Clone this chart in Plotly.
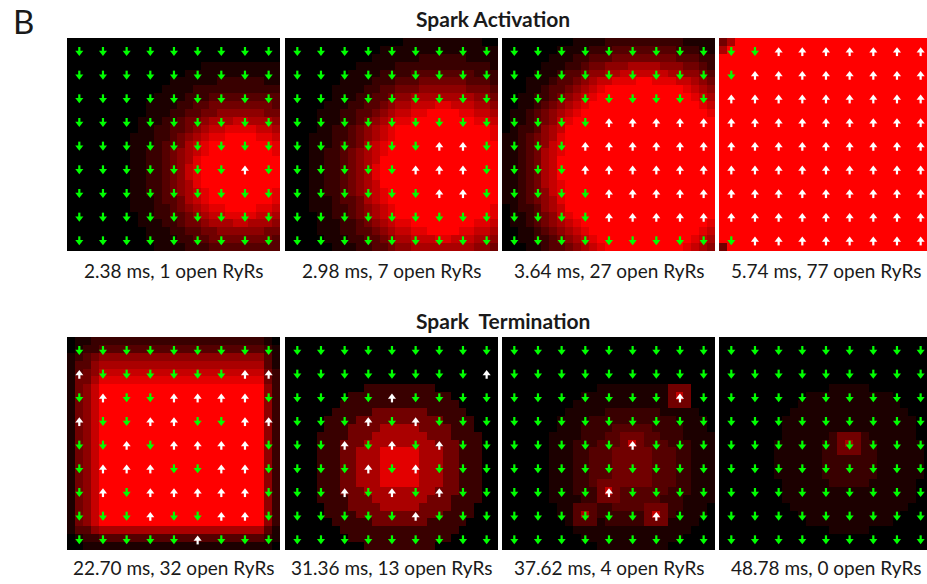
import plotly.graph_objects as go

# ---------------------------------------------------------------------------
# Data
# ---------------------------------------------------------------------------
times_ms = ["2.38", "2.98", "3.64", "5.74", "22.70", "31.36", "37.62", "48.78"]
open_counts = [1, 7, 27, 77, 32, 13, 4, 0]
row_titles = ["Spark Activation", "Spark  Termination"]

# RyR channel states on the 9x9 cluster ("1" = open, "0" = closed)
ryr_2_38 = ["000000000", "000000000", "000000000", "000000000", "000000000",
            "000000010", "000000000", "000000000", "000000000"]
ryr_2_98 = ["000000000", "000000000", "000000000", "000000000", "000000110",
            "000001110", "000000110", "000000000", "000000000"]
ryr_3_64 = ["000000000", "000000000", "000000000", "000011111", "000111111",
            "000111111", "000011111", "000011111", "000000000"]
ryr_5_74 = ["001111111", "011111111", "111111111", "111111111", "111111111",
            "111111111", "111111111", "111111111", "011111111"]
ryr_22_70 = ["000000000", "100000011", "010011110", "100110011", "001011110",
             "011100110", "010111110", "000100110", "000001000"]
ryr_31_36 = ["000000000", "000000001", "000010000", "000101000", "001010100",
             "000101000", "001010100", "000001000", "000000000"]
ryr_37_62 = ["000000000", "000000000", "000000010", "000000000", "000001000",
             "000000000", "000010000", "000000100", "000000000"]
ryr_48_78 = ["000000000", "000000000", "000000000", "000000000", "000000000",
             "000000000", "000000000", "000000000", "000000000"]

# Cleft Ca2+ level on the 27x27 grid, 0 (none) .. 9 (saturated)
ca_2_38 = [
    "000000000000000000000000000", "000000000000000000000000000",
    "000000000000000000000000000", "000000000000000001111111111",
    "000000000000000111111111111", "000000000000011111122222211",
    "000000000000111122222222222", "000000000001111222333333333",
    "000000000011112233444444443", "000000000011122334455555544",
    "000000000111223445666776665", "000000000112233456778888776",
    "000000001112234567889999887", "000000001112334678999999998",
    "000000001122345678999999998", "000000001122345689999999999",
    "000000001122345789999999999", "000000001122345789999999999",
    "000000001122345689999999999", "000000001122345678999999998",
    "000000001112334678999999998", "000000001112234567889999887",
    "000000000112233456778888776", "000000000111223445666776665",
    "000000000011122334455555544", "000000000011112233444444443",
    "000000000001111222333333333",
]
ca_2_98 = [
    "000000000000000111111111100", "000000000000111111111111111",
    "000000000001111112222221111", "000000000111112222222222221",
    "000000001111222233333333222", "000000011112223334444443332",
    "000000111122334445555554443", "000000111223345566666666554",
    "000001112233456677788777665", "000011122334567788999988776",
    "000011122345678899999999887", "000011223456789999999999998",
    "000111223456789999999999998", "000111233467899999999999999",
    "000112234567899999999999999", "000112234567999999999999999",
    "000112234568999999999999999", "000112234568999999999999999",
    "000112234567999999999999999", "000112234567899999999999999",
    "000111233467899999999999999", "000111223456789999999999998",
    "000011223456789999999999998", "000011122345678899999999887",
    "000011122334567788999988776", "000001112233456677788777665",
    "000000111223345566666666554",
]
ca_3_64 = [
    "000000000111122222222221111", "000000011112223333333322211",
    "000000111223334444444433322", "000001112234455566665554432",
    "000011123345566777777665543", "000111233456778889988877654",
    "000112334567899999999998765", "001122345678999999999999876",
    "001123456789999999999999987", "011234567899999999999999998",
    "011234578999999999999999999", "012235679999999999999999999",
    "112345689999999999999999999", "112345789999999999999999999",
    "112346789999999999999999999", "112346799999999999999999999",
    "112346799999999999999999999", "112346799999999999999999999",
    "112346789999999999999999999", "112345789999999999999999999",
    "112345689999999999999999999", "012235679999999999999999999",
    "011234578999999999999999999", "011234567899999999999999998",
    "001123456789999999999999987", "001122345678999999999999876",
    "000112334567899999999998765",
]
ca_5_74 = (["469999999999999999999999999", "699999999999999999999999999"]
           + ["999999999999999999999999999"] * 24
           + ["499999999999999999999999999"])
ca_22_70 = (["011222222222222222222222210", "012233333333333333333333321",
             "123455555555555555555555531", "133566666666666666666666631",
             "134577777777777777777777742", "144688888888888888888888842"]
            + ["145799999999999999999999952"] * 18
            + ["133566666666666666666666631", "012233333333333333333333321",
               "001111111111111111111111110"])
ca_31_36 = [
    "000000000000000000000000000", "000000000000000000000000000",
    "000000000000000000000000000", "000000000000000000000000000",
    "000000000000000000000000000", "000000000000000000000000000",
    "000000000022222222200000000", "000000002222222222222000000",
    "000000022222222222222200000", "000000222224444444222220000",
    "000002222444444444442222000", "000002224444666664444222000",
    "000022224446666666444222200", "000022244466666666644422200",
    "000022244666888886664422200", "000022244666888886664422200",
    "000022244666888886664422200", "000022244666888886664422200",
    "000022244666888886664422200", "000022244466666666644422200",
    "000022224446666666444222200", "000002224444666664444222000",
    "000002222444444444442222000", "000000222224444444222220000",
    "000000022222222222222200000", "000000002222222222222000000",
    "000000000022222222200000000",
]
ca_37_62 = [
    "000000000000000000000000000", "000000000000000000000000000",
    "000000000000000000000000000", "000000000000000000000000000",
    "000000000000000000000000000", "000000000000000000000000000",
    "000000000000111111111444000", "000000000011111111111474000",
    "000000000111111111111444000", "000000001111122222221111100",
    "000000011112222222222211110", "000000011122223333322221110",
    "000000111122233444332221111", "000000111222333474333222111",
    "000000111223334444433322111", "000000111223334444433322111",
    "000000111223334444433322111", "000000111223334444433322111",
    "000000111223444444433322111", "000000111222474333333222111",
    "000000111122444333332221111", "000000011333223333444221110",
    "000000011363222222474211110", "000000001333122222444111100",
    "000000000111111111111111000", "000000000011111111111110000",
    "000000000000111111111000000",
]
ca_48_78 = [
    "000000000000000000000000000", "000000000000000000000000000",
    "000000000000000000000000000", "000000000000000000000000000",
    "000000000000000000000000000", "000000000000000000000000000",
    "000000000000001111100000000", "000000000001111111111100000",
    "000000000011111111111110000", "000000000111111111111111000",
    "000000001111111111111111100", "000000001111111111111111100",
    "000000001111112444211111100", "000000011111122464221111110",
    "000000011111122444221111110", "000000011111122222221111110",
    "000000011111122222221111110", "000000011111122222221111110",
    "000000001111112222211111100", "000000001111111111111111100",
    "000000001111111111111111100", "000000000111111111111111000",
    "000000000011111111111110000", "000000000001111111111100000",
    "000000000000001111100000000", "000000000000000000000000000",
    "000000000000000000000000000",
]

ryr_states = [ryr_2_38, ryr_2_98, ryr_3_64, ryr_5_74,
              ryr_22_70, ryr_31_36, ryr_37_62, ryr_48_78]
ca_levels = [ca_2_38, ca_2_98, ca_3_64, ca_5_74,
             ca_22_70, ca_31_36, ca_37_62, ca_48_78]

# ---------------------------------------------------------------------------
# Layout geometry (pixels of a 927 x 584 page)
# ---------------------------------------------------------------------------
W, H = 927, 584
PANEL = 213.0                      # panel side in px
CELL = PANEL / 27.0                # one grid cell in px
col_left = [67, 285, 502, 719]
row_top = [38, 337]
label_y = [270, 567]
title_pos = [(493, 18), (503, 320)]

GREEN = "#00ff00"
WHITE = "#ffffff"
TEXT = "#1a1a1a"

fig = go.Figure()
annotations = []

for k in range(8):
    r, c = divmod(k, 4)
    ax = "" if k == 0 else str(k + 1)
    x0 = col_left[c]
    x1 = min(x0 + PANEL, W)
    y0 = row_top[r]
    dom_x = [x0 / W, x1 / W]
    dom_y = [1 - (y0 + PANEL) / H, 1 - y0 / H]
    xr = [-0.5, -0.5 + (x1 - x0) / CELL]

    z = [[int(ch) for ch in row] for row in ca_levels[k]]
    fig.add_trace(go.Heatmap(
        z=z, x0=0, dx=1, y0=0, dy=1,
        colorscale=[[0, "#000000"], [1, "#ff0000"]],
        zmin=0, zmax=9, showscale=False, hoverinfo="skip",
        xaxis="x" + ax, yaxis="y" + ax,
    ))

    # RyR arrows: green down = closed, white up = open
    ox, oy, cx, cy = [], [], [], []
    for i, srow in enumerate(ryr_states[k]):
        for j, s in enumerate(srow):
            gx, gy = 3 * j + 1 + 0.06, 3 * i + 1
            if s == "1":
                ox.append(gx); oy.append(gy)
            else:
                cx.append(gx); cy.append(gy)
    px = 1.0 / CELL
    # closed: shaft + downward head
    fig.add_trace(go.Scatter(
        x=cx, y=[v - 0.6 * px for v in cy], mode="markers",
        marker=dict(symbol="line-ns", size=3.2, line=dict(width=2.2, color=GREEN)),
        hoverinfo="skip", xaxis="x" + ax, yaxis="y" + ax,
    ))
    fig.add_trace(go.Scatter(
        x=cx, y=[v + 2.7 * px for v in cy], mode="markers",
        marker=dict(symbol="triangle-down", size=7, color=GREEN, line=dict(width=0)),
        hoverinfo="skip", xaxis="x" + ax, yaxis="y" + ax,
    ))
    # open: upward head + shaft
    fig.add_trace(go.Scatter(
        x=ox, y=[v + 4.0 * px for v in oy], mode="markers",
        marker=dict(symbol="line-ns", size=3.2, line=dict(width=2.2, color=WHITE)),
        hoverinfo="skip", xaxis="x" + ax, yaxis="y" + ax,
    ))
    fig.add_trace(go.Scatter(
        x=ox, y=[v + 0.9 * px for v in oy], mode="markers",
        marker=dict(symbol="triangle-up", size=7, color=WHITE, line=dict(width=0)),
        hoverinfo="skip", xaxis="x" + ax, yaxis="y" + ax,
    ))

    fig.update_layout(**{
        "xaxis" + ax: dict(domain=dom_x, range=xr, visible=False, fixedrange=True,
                           anchor="y" + ax),
        "yaxis" + ax: dict(domain=dom_y, range=[26.5, -0.5], visible=False,
                           fixedrange=True, anchor="x" + ax),
    })

    annotations.append(dict(
        text=f"{times_ms[k]} ms, {open_counts[k]} open RyRs",
        x=(x0 + PANEL / 2) / W, y=1 - label_y[r] / H,
        xref="paper", yref="paper", xanchor="center", yanchor="middle",
        showarrow=False, font=dict(family="Lato", size=19, color=TEXT),
    ))

for (tx, ty), t in zip(title_pos, row_titles):
    annotations.append(dict(
        text=f"<b>{t}</b>", x=tx / W, y=1 - ty / H, xref="paper", yref="paper",
        xanchor="center", yanchor="middle", showarrow=False,
        font=dict(family="Lato", size=21, color=TEXT),
    ))

annotations.append(dict(
    text="B", x=23 / W, y=1 - 21 / H, xref="paper", yref="paper",
    xanchor="center", yanchor="middle", showarrow=False,
    font=dict(family="Lato", size=33, color=TEXT),
))

fig.update_layout(
    width=W, height=H,
    margin=dict(l=0, r=0, t=0, b=0),
    paper_bgcolor="white", plot_bgcolor="white",
    showlegend=False,
    annotations=annotations,
)

fig.write_html("out.html")
